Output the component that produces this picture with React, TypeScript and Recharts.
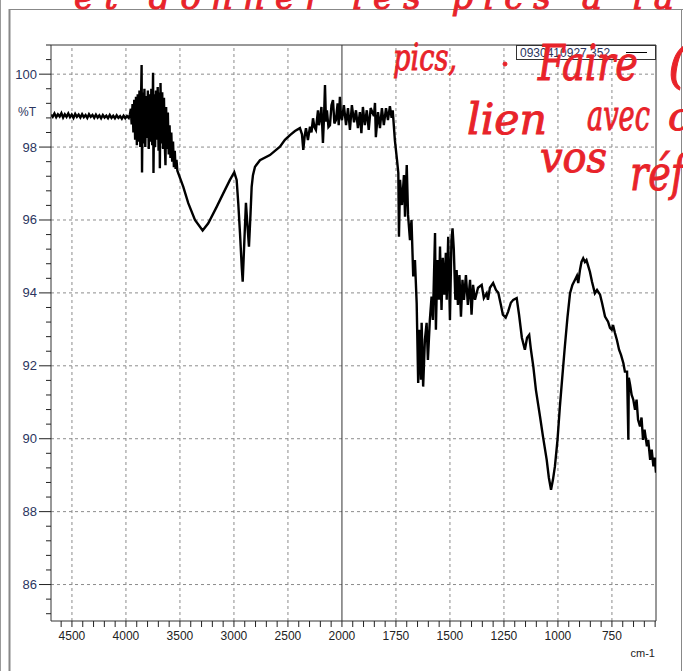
import { LineChart, Line, XAxis, YAxis, ReferenceLine } from "recharts"

// IR spectrum, wavenumber (cm-1) vs %T
const waveNumbers = [
  4694, 4678, 4662, 4646, 4630, 4614, 4598, 4582, 4566, 4550, 4534, 4518, 4502, 4486, 4470, 4454,
  4438, 4422, 4406, 4390, 4374, 4358, 4342, 4326, 4310, 4294, 4278, 4262, 4246, 4230, 4214, 4198,
  4182, 4166, 4150, 4134, 4118, 4102, 4086, 4070, 4054, 4038, 4022, 4006, 3990, 3974,
  3963, 3955, 3947, 3939, 3931, 3923, 3915, 3907, 3899, 3891, 3883, 3875, 3867, 3860, 3855, 3851,
  3845, 3837, 3829, 3821, 3813, 3805, 3797, 3789, 3781, 3773, 3765, 3757, 3749, 3745, 3738, 3730,
  3722, 3714, 3706, 3698, 3690, 3686, 3680, 3672, 3664, 3656, 3648, 3640, 3634, 3628, 3620, 3612,
  3604, 3596, 3588, 3580, 3572, 3564, 3556, 3548, 3540, 3532, 3524,
  3469, 3423, 3361, 3290, 3238, 3160, 3099, 3037, 2997, 2975, 2960, 2944, 2928, 2919,
  2907, 2889, 2875, 2861, 2847, 2836, 2824, 2805, 2759, 2667, 2574, 2528, 2481, 2435, 2389, 2370,
  2358, 2345, 2333, 2315, 2296, 2282, 2268, 2255, 2241, 2222, 2213, 2204, 2190, 2176, 2165, 2157,
  2148, 2139, 2125, 2111, 2097, 2083, 2070, 2056, 2040, 2030, 2019, 2010, 2000,
  1991, 1981, 1972, 1963, 1954, 1944, 1935, 1926, 1917, 1910, 1903, 1894, 1885, 1876, 1867, 1852,
  1847, 1843, 1833, 1824, 1815, 1806, 1796, 1787, 1778, 1770, 1765,
  1755, 1745, 1739, 1736, 1731, 1722, 1713, 1708, 1700, 1694, 1685, 1678, 1670, 1662, 1654, 1647,
  1641, 1634, 1631, 1624, 1616, 1608, 1602, 1593,
  1585, 1579, 1569, 1565, 1558, 1551, 1546, 1539, 1533, 1526, 1519, 1515, 1508, 1500, 1493, 1488,
  1482, 1475, 1469, 1463, 1456, 1449, 1442, 1435, 1426, 1417, 1407, 1400, 1393, 1384, 1370, 1353,
  1343, 1330, 1324, 1315, 1300, 1287, 1276, 1264, 1255, 1242, 1231, 1218, 1207, 1191, 1180, 1167,
  1153, 1143, 1133, 1125, 1114, 1102, 1083, 1069, 1052, 1042, 1032, 1023, 1014, 1002, 991, 979,
  968, 956, 944, 933, 921, 912, 906, 898, 891, 883, 875, 868, 859, 852, 842, 829,
  819, 805, 796, 782, 768, 759, 751, 745, 736, 727, 717, 708, 697, 690, 680, 674,
  672, 666, 659, 651, 643, 636, 629, 620, 613, 606, 599, 588, 582, 573, 566, 558,
  552, 546,
]

const transmittance = [
  98.89, 98.83, 98.92, 98.82, 98.9, 98.84, 98.93, 98.81, 98.9, 98.83, 98.92, 98.82, 98.89, 98.8, 98.91, 98.83,
  98.89, 98.81, 98.9, 98.82, 98.88, 98.8, 98.9, 98.83, 98.88, 98.8, 98.89, 98.81, 98.87, 98.79, 98.88, 98.81,
  98.86, 98.79, 98.88, 98.8, 98.86, 98.79, 98.87, 98.8, 98.85, 98.78, 98.86, 98.79, 98.85, 98.8,
  98.9, 99.05, 98.62, 99.18, 98.4, 99.3, 98.2, 99.38, 98.05, 99.45, 98.15, 99.55, 98.0, 99.35, 100.25, 97.3,
  99.5, 98.1, 99.6, 98.0, 99.4, 98.25, 99.55, 97.95, 99.45, 98.15, 99.6, 98.05, 100.04, 97.29, 99.45, 98.0,
  99.55, 98.2, 99.65, 97.9, 99.5, 97.42, 99.76, 98.1, 99.5, 97.95, 99.35, 98.05, 97.5, 99.1, 97.95, 98.95,
  97.8, 98.6, 97.7, 98.4, 97.6, 98.15, 97.45, 97.9, 97.4, 97.65, 97.35,
  96.91, 96.46, 96.0, 95.71, 95.91, 96.36, 96.73, 97.1, 97.31, 97.1, 96.46, 95.64, 94.72, 94.31,
  95.18, 96.47, 95.86, 95.27, 96.14, 96.91, 97.23, 97.46, 97.64, 97.78, 98.01, 98.2, 98.33, 98.44, 98.52, 98.35,
  97.92, 98.3, 98.52, 98.19, 98.56, 98.4, 98.79, 98.55, 98.47, 99.01, 98.6, 98.74, 99.1, 98.11, 98.9, 99.7,
  98.7, 99.01, 98.55, 98.6, 99.15, 99.29, 98.65, 98.74, 99.2, 98.6, 99.38, 98.85, 98.74,
  99.15, 98.6, 99.07, 98.47, 99.15, 98.68, 99.01, 98.52, 98.96, 98.38, 99.1, 98.6, 99.01, 98.47, 99.07, 98.85,
  99.21, 98.27, 98.96, 98.52, 99.07, 98.6, 99.07, 98.74, 99.12, 98.8, 99.01,
  98.19, 97.64, 97.29, 95.54, 97.1, 96.41, 97.23, 96.09, 97.51, 96.14, 95.45, 96.0, 94.45, 94.9, 93.72, 91.53,
  92.99, 91.62, 93.18, 91.43, 92.71, 93.18, 92.16, 93.26,
  93.9, 93.26, 95.64, 92.99, 94.9, 93.81, 95.27, 93.53, 94.96, 93.95, 95.1, 93.81, 95.54, 93.26, 95.45, 95.77,
  95.18, 93.81, 94.63, 93.67, 94.49, 93.35, 94.36, 93.81, 94.49, 93.67, 94.36, 93.4, 94.22, 93.81, 94.14, 94.22,
  93.86, 93.99, 93.81, 94.14, 94.27, 94.08, 94.0, 93.67, 93.4, 93.32, 93.48, 93.73, 93.81, 93.86, 93.4, 92.77,
  92.44, 92.77, 92.85, 92.44, 91.98, 91.34, 90.61, 90.05, 89.42, 88.93, 88.6, 88.88, 89.24, 89.97, 90.88, 91.75,
  92.53, 93.32, 93.99, 94.22, 94.36, 94.47, 94.27, 94.63, 94.85, 94.95, 94.85, 94.9, 94.72, 94.58, 94.3, 93.99,
  94.08, 93.95, 93.73, 93.35, 93.21, 93.04, 92.99, 93.12, 92.9, 92.71, 92.44, 92.3, 92.07, 91.84, 91.84, 89.97,
  91.67, 91.48, 91.21, 91.07, 90.79, 91.07, 90.52, 90.34, 90.58, 89.97, 90.25, 89.79, 89.97, 89.42, 89.7, 89.24,
  89.48, 89.07,
]

const xMajorTicks = [4500, 4000, 3500, 3000, 2500, 2000, 1750, 1500, 1250, 1000, 750]
const yMajorTicks = [86, 88, 90, 92, 94, 96, 98, 100]
const seriesName = "0930410927 352"

// below 2000 cm-1 the instrument doubles the scale, so map to a linear axis unit
const toAxis = (wn: number) => (wn >= 2000 ? wn : 2 * wn - 2000)
const fromAxis = (u: number) => (u >= 2000 ? u : (u + 2000) / 2)

const data = waveNumbers.map((wn, i) => ({ u: toAxis(wn), t: transmittance[i] }))

const xTicks: number[] = []
for (let u = -900; u <= 4600; u += 100) xTicks.push(u)
const yTicks: number[] = []
for (let k = 0; k <= 39; k++) yTicks.push(+(85.2 + k * 0.4).toFixed(1))

const labelColor = "#2b3560"
const font = "Arial, 'Liberation Sans', sans-serif"

function XTick({ x, y, payload }: any) {
  const wn = fromAxis(payload.value)
  const major = xMajorTicks.includes(wn)
  return (
    <g>
      <line x1={x} x2={x} y1={y} y2={y + 6} stroke="#222" />
      {major && (
        <text x={x} y={y + 19} textAnchor="middle" fontSize={12} fill="#222" fontFamily={font}>
          {wn}
        </text>
      )}
    </g>
  )
}

function YTick({ x, y, payload }: any) {
  const major = yMajorTicks.includes(payload.value)
  return (
    <g>
      <line x1={major ? x - 12 : x - 5} x2={x} y1={y} y2={y} stroke="#222" />
      {major && (
        <text x={x - 14} y={y + 4.5} textAnchor="end" fontSize={13} fill={labelColor} fontFamily={font}>
          {payload.value}
        </text>
      )}
    </g>
  )
}

const red = "#e8232a"
const hand = "'DejaVu Serif', serif"

export default function App() {
  return (
    <div style={{ position: "relative", width: 683, height: 671, background: "#fff", overflow: "hidden" }}>
      <style>{"body{margin:0}"}</style>
      <LineChart width={683} height={671} data={data} margin={{ top: 45, right: 27, left: 10, bottom: 10 }}>
        <XAxis
          dataKey="u"
          type="number"
          domain={[-908, 4694]}
          reversed
          allowDataOverflow
          ticks={xTicks}
          interval={0}
          tickSize={0}
          tickMargin={0}
          tickLine={false}
          tick={(p: any) => <XTick {...p} />}
          axisLine={{ stroke: "#333" }}
          height={40}
        />
        <YAxis
          type="number"
          domain={[85, 100.8]}
          allowDataOverflow
          ticks={yTicks}
          interval={0}
          tickSize={0}
          tickMargin={0}
          tickLine={false}
          tick={(p: any) => <YTick {...p} />}
          axisLine={{ stroke: "#333" }}
          width={41}
        />
        {yMajorTicks.map((v) => (
          <ReferenceLine key={"h" + v} y={v} stroke="#8c8c8c" strokeDasharray="3 3" />
        ))}
        {xMajorTicks
          .filter((wn) => wn !== 2000)
          .map((wn) => (
            <ReferenceLine key={"v" + wn} x={toAxis(wn)} stroke="#8c8c8c" strokeDasharray="3 3" />
          ))}
        <ReferenceLine x={2000} stroke="#333" />
        <ReferenceLine y={100.8} stroke="#333" />
        <ReferenceLine x={-908} stroke="#333" />
        <Line
          type="linear"
          dataKey="t"
          name={seriesName}
          stroke="#000"
          strokeWidth={2.4}
          dot={false}
          isAnimationActive={false}
        />
      </LineChart>
      <svg width={683} height={671} style={{ position: "absolute", left: 0, top: 0, pointerEvents: "none" }}>
        {/* window frame */}
        <line x1={0.5} x2={0.5} y1={0} y2={671} stroke="#9a9a9a" />
        <line x1={9.5} x2={9.5} y1={9} y2={671} stroke="#888" strokeWidth={2} />
        <line x1={9} x2={683} y1={9.5} y2={9.5} stroke="#888" />
        <line x1={681.5} x2={681.5} y1={9} y2={671} stroke="#888" />
        {/* axis labels */}
        <text x={18} y={116} fontSize={12} fill={labelColor} fontFamily={font}>%T</text>
        <text x={655} y={657} textAnchor="end" fontSize={11} fill="#222" fontFamily={font}>cm-1</text>
        {/* legend */}
        <rect x={516.5} y={45.5} width={139} height={14} fill="#fff" stroke="#333" />
        <text x={520} y={57} fontSize={12} fill={labelColor} fontFamily={font}>{seriesName}</text>
        <line x1={626} x2={647} y1={52.5} y2={52.5} stroke="#000" />
        {/* handwritten annotations */}
        <g fill={red} stroke={red} strokeWidth={1} fontFamily={hand} fontStyle="italic">
          <text x={74} y={9} fontSize={34} textLength={600} lengthAdjust="spacing">et donner les pics à la</text>
          <text x={393} y={70} fontSize={38} textLength={64} lengthAdjust="spacingAndGlyphs">pics,</text>
          <circle cx={505} cy={64} r={2} />
          <text x={538} y={80} fontSize={48} textLength={100} lengthAdjust="spacingAndGlyphs">Faire</text>
          <text x={668} y={82} fontSize={50}>(</text>
          <text x={467} y={134} fontSize={42} textLength={80} lengthAdjust="spacingAndGlyphs">lien</text>
          <text x={587} y={130} fontSize={42} textLength={63} lengthAdjust="spacingAndGlyphs">avec</text>
          <text x={668} y={130} fontSize={40}>c</text>
          <text x={540} y={172} fontSize={42} textLength={67} lengthAdjust="spacingAndGlyphs">vos</text>
          <text x={630} y={190} fontSize={48} textLength={55} lengthAdjust="spacingAndGlyphs">réf</text>
        </g>
      </svg>
    </div>
  )
}
